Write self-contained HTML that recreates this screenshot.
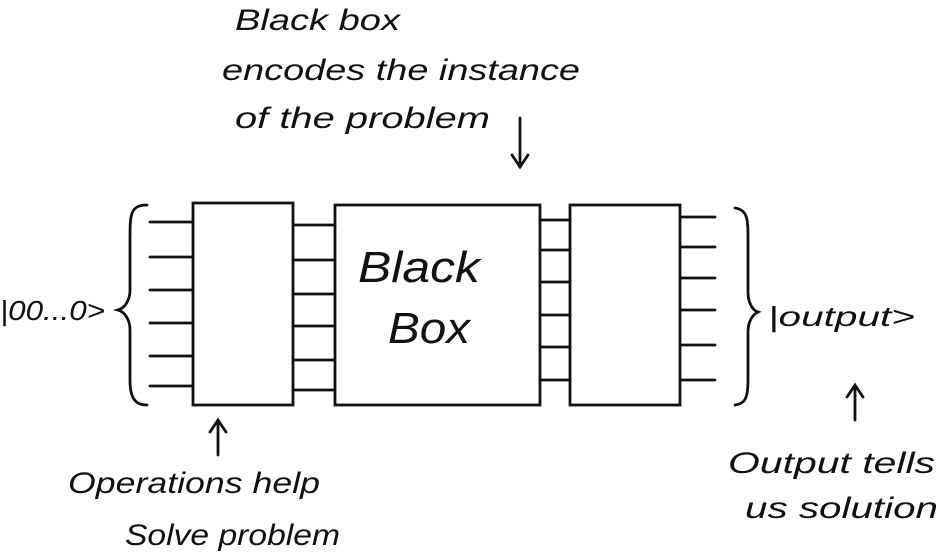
<!DOCTYPE html>
<html><head><meta charset="utf-8"><style>
html,body{margin:0;padding:0;background:#fff;width:940px;height:558px;overflow:hidden}
svg{display:block}
text{font-family:"Liberation Sans",sans-serif;fill:#111}
</style></head><body>
<svg width="940" height="558" viewBox="0 0 940 558">
<g stroke="#111" stroke-width="2.8" fill="none" stroke-linecap="round">
<rect x="193" y="203" width="100" height="202"/>
<rect x="335" y="205" width="205" height="200"/>
<rect x="570" y="205" width="110" height="200"/>
<g>
<path d="M150 222H193M150 257H193M150 290H193M150 323H193M150 356H193M150 386H193"/>
</g>
<g>
<path d="M293 225H335M293 260H335M293 294H335M293 326H335M293 360H335M293 390H335"/>
</g>
<g>
<path d="M540 220H570M540 250H570M540 282H570M540 315H570M540 347H570M540 380H570"/>
</g>
<g>
<path d="M680 217H715M680 247H715M680 278H715M680 310H715M680 345H715M680 380H715"/>
</g>
<path d="M147 205C130 205 130 215 130 240V290C130 300 125 308 118 310C125 312 130 320 130 330V380C130 398 135 405 147 405"/>
<path d="M735 208C748 210 748 220 748 240V292C748 302 752 310 758 312C752 315 748 322 748 332V380C748 398 745 404 735 405"/>
<path d="M520 118V165M512 155L520 167L528 155"/>
<path d="M218 455V422M210 432L218 420L226 432"/>
<path d="M855 420V387M847 397L855 385L863 397"/>
</g>
<g font-style="italic" lengthAdjust="spacingAndGlyphs">
<text x="235" y="30" font-size="30" textLength="165" lengthAdjust="spacingAndGlyphs">Black box</text>
<text x="222" y="80" font-size="30" textLength="358" lengthAdjust="spacingAndGlyphs">encodes the instance</text>
<text x="235" y="128" font-size="30" textLength="255" lengthAdjust="spacingAndGlyphs">of the problem</text>
<text x="358" y="282" font-size="44" textLength="122" lengthAdjust="spacingAndGlyphs">Black</text>
<text x="388" y="343" font-size="44" textLength="82" lengthAdjust="spacingAndGlyphs">Box</text>
<text x="0" y="320" font-size="28" textLength="105" lengthAdjust="spacingAndGlyphs">|00...0&gt;</text>
<text x="768" y="326" font-size="28" textLength="147" lengthAdjust="spacingAndGlyphs">|output&gt;</text>
<text x="68" y="493" font-size="30" textLength="252" lengthAdjust="spacingAndGlyphs">Operations help</text>
<text x="125" y="545" font-size="30" textLength="215" lengthAdjust="spacingAndGlyphs">Solve problem</text>
<text x="728" y="473" font-size="30" textLength="207" lengthAdjust="spacingAndGlyphs">Output tells</text>
<text x="745" y="518" font-size="30" textLength="193" lengthAdjust="spacingAndGlyphs">us solution</text>
</g>
</svg>
</body></html>
